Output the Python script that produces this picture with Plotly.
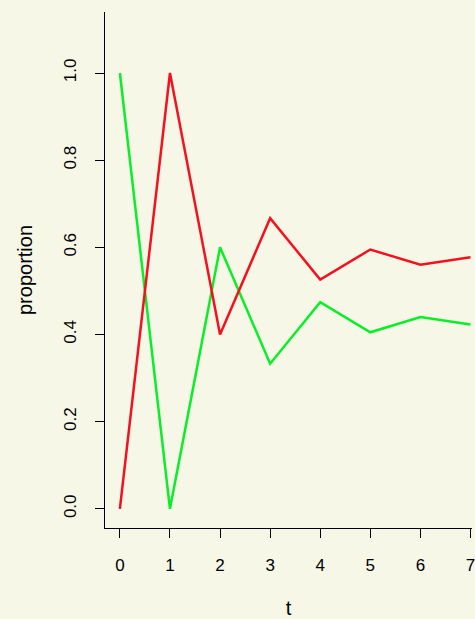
import plotly.graph_objects as go

# Dados
t = [0, 1, 2, 3, 4, 5, 6, 7]
verde = [1.0, 0.0, 0.6, 0.333, 0.474, 0.405, 0.44, 0.423]
vermelho = [0.0, 1.0, 0.4, 0.667, 0.526, 0.595, 0.56, 0.577]
y_ticks = [0.0, 0.2, 0.4, 0.6, 0.8, 1.0]

fundo = "#F7F7E8"

# Cria a figura
fig = go.Figure()
fig.add_trace(go.Scatter(x=t, y=verde, mode="lines",
                         line=dict(color="#0AEE2A", width=2.5)))
fig.add_trace(go.Scatter(x=t, y=vermelho, mode="lines",
                         line=dict(color="#F5101E", width=2.5)))

# Layout
fig.update_layout(
    width=475, height=619,
    margin=dict(l=105, r=0, t=12, b=91),
    paper_bgcolor=fundo, plot_bgcolor=fundo,
    showlegend=False,
    font=dict(family="Liberation Sans, Arial, sans-serif", size=17, color="black"),
)
fig.update_xaxes(
    range=[-0.297, 7.03], tickvals=t, ticks="outside", ticklen=9,
    tickcolor="black", showline=True, linecolor="black", linewidth=1.2,
    showgrid=False, zeroline=False, ticklabelstandoff=12,
    ticklabeloverflow="allow",
    title=dict(text="t", standoff=28),
)
fig.update_yaxes(
    range=[-0.044, 1.14], tickvals=y_ticks, tickformat=".1f", tickangle=-90,
    ticks="outside", ticklen=9, tickcolor="black", showline=True,
    linecolor="black", linewidth=1.2, showgrid=False, zeroline=False,
    ticklabelstandoff=12, title=dict(text="proportion", standoff=23),
)

# tira a margem do body da pagina
fig.write_html("out.html", config={"displayModeBar": False},
               post_script="document.body.style.margin='0';")
